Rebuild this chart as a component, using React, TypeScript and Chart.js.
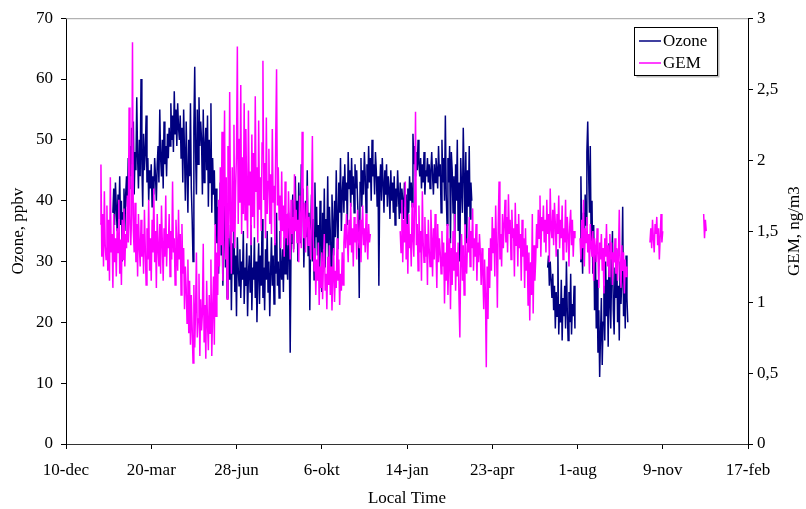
import React, { useEffect, useRef } from "react";
import { Chart, registerables } from "chart.js";

Chart.register(...registerables);

// X axis: days since 10-dec (first tick), ticks every 100 days
const xTickLabels = ["10-dec", "20-mar", "28-jun", "6-okt", "14-jan", "23-apr", "1-aug", "9-nov", "17-feb"];
const gemTickLabels = ["0", "0,5", "1", "1,5", "2", "2,5", "3"];

// Ozone (ppbv), daily samples; each block starts at the given day
const ozoneStartA = 55;
const ozoneA = [
  38, 42, 36, 43, 39, 35, 41, 37, 44, 36,
  40, 30, 38, 42, 35, 41, 44, 39, 47, 42,
  49, 44, 52, 46, 53, 41, 48, 45, 57, 47,
  42, 50, 44, 60, 46, 39, 51, 45, 48, 54,
  43, 47, 40, 45, 42, 46, 39, 44, 41, 47,
  44, 40, 46, 49, 43, 55, 47, 44, 50, 42,
  53, 46, 49, 44, 51, 47, 52, 49, 56, 50,
  54, 48, 58, 51, 55, 49, 56, 52, 50, 54,
  47, 52, 43, 55, 48, 40, 53, 45, 38, 50,
  44, 56, 42, 37, 30, 52, 62, 48, 41, 55,
  46, 57, 49, 53, 50, 41, 55, 43, 49, 52,
  45, 54, 39, 50, 43, 56, 38, 47, 41, 45,
  36, 42, 33, 39, 28, 37, 43, 31, 38, 26,
  35, 40, 29, 34, 24, 38, 31, 27, 36, 22,
  33, 28, 37, 25, 31, 21, 34, 29, 26, 32,
  24, 30, 27, 35, 23, 29, 26, 33, 21, 28,
  31, 25, 36, 22, 29, 27, 34, 24, 30, 20,
  28, 33, 23, 31, 26, 37, 24, 29, 22, 32,
  27, 35, 25, 30, 21, 28, 34, 26, 31, 23,
  33, 28, 38, 26, 30, 24, 35, 29, 27, 32,
  25, 34, 28, 36, 30, 27, 38, 31, 15, 33,
  36, 41, 32, 38, 44, 35, 40, 30, 43, 37,
  33, 46, 38, 42, 29, 36, 40, 34, 45, 31,
  38, 22, 35, 41, 30, 37, 27, 43, 34, 39,
  31, 36, 28, 40, 34, 25, 38, 32, 42, 29,
  37, 33, 44, 30, 39, 35, 26, 41, 36, 31,
  40, 34, 45, 37, 32, 43, 38, 47, 35, 41,
  44, 38, 46, 40, 43, 36, 48, 42, 45, 39,
  47, 41, 44, 38, 46, 42, 45, 40, 36, 24,
  43, 47, 39, 45, 41, 48, 44, 38, 46, 42,
  49, 43, 47, 40, 50, 44, 46, 41, 48, 45,
  39, 44, 26, 42, 46, 40, 47, 43, 38, 45,
  41, 46, 39, 44, 42, 37, 45, 40, 43, 38,
  44, 36, 42, 39, 45, 41, 37, 43, 38, 42,
  40, 37, 43, 39, 41, 36, 42, 38, 44, 40,
  43, 39, 51, 46, 49, 44, 48, 45, 50, 46,
  44, 47, 42, 46, 43, 48, 41, 45, 44, 47,
  43, 46, 42, 45, 48, 44, 41, 46, 43, 47,
  45, 42, 49, 44, 46, 38, 50, 43, 47, 40,
  54, 41, 36, 47, 43, 49, 33, 48, 45, 38,
  44, 31, 46, 40, 50, 35, 43, 30, 47, 42,
  38, 52, 44, 36, 48, 33, 45, 39, 49, 37,
  43, 40,
];
const ozoneStartB = 565;
const ozoneB = [
  29, 31, 26, 30, 27, 24, 28, 22, 26, 19,
  25, 21, 32, 18, 23, 20, 27, 17, 24, 21,
  26, 19, 30, 22, 17, 25, 20, 28, 18, 23,
  21, 26, 19,
];
const ozoneStartC = 603;
const ozoneC = [
  30, 44, 34, 28, 38, 32, 41, 36, 48, 53,
  45, 38, 49, 33, 40, 28, 36, 22, 32, 19,
  27, 15, 22, 11, 18, 24, 13, 20, 26, 17,
  30, 21, 27, 16, 33, 23, 19, 28, 35, 22,
  18, 29, 24, 32, 20, 26, 17, 30, 23, 27,
  39, 21, 28, 19, 31, 24, 20,
];

// GEM (ng/m3), daily samples
const gemStartA = 40;
const gemA = [
  1.55, 1.97, 1.32, 1.62, 1.25, 1.78, 1.40, 1.30, 1.68, 1.22,
  1.58, 1.15, 1.88, 1.35, 1.48, 1.10, 1.62, 1.28, 1.45, 1.18,
  1.52, 1.35, 1.72, 1.20, 1.44, 1.12, 1.58, 1.30, 1.66, 1.25,
  1.48, 1.38, 1.75, 1.42, 2.37, 1.55, 1.40, 1.62, 2.83, 1.50,
  1.35, 1.70, 1.28, 1.55, 1.18, 1.62, 1.40, 1.25, 1.58, 1.32,
  1.48, 1.20, 1.65, 1.38, 1.12, 1.52, 1.30, 1.72, 1.22, 1.45,
  1.15, 1.58, 1.35, 1.80, 1.28, 1.50, 1.10, 1.62, 1.38, 1.25,
  1.55, 1.20, 1.68, 1.42, 1.15, 1.52, 1.32, 1.75, 1.25, 1.48,
  1.38, 1.62, 1.18, 1.50, 1.30, 1.85, 1.35, 1.45, 1.12, 1.58,
  1.40, 1.22, 1.65, 1.30, 1.48, 1.05, 1.55, 1.20, 1.38, 0.95,
  1.25, 1.10, 0.85, 1.30, 0.78, 1.15, 0.70, 1.05, 0.82, 0.57,
  1.12, 0.68, 0.95, 1.35, 0.75, 0.88, 1.20, 0.62, 1.02, 0.80,
  0.92, 1.41, 0.72, 0.98, 0.60, 1.15, 0.85, 0.66, 1.05, 0.78,
  1.30, 0.62, 0.94, 1.18, 0.70, 1.55, 0.90, 1.35, 1.05, 1.72,
  1.25, 1.95, 1.40, 2.20, 1.15, 1.78, 2.35, 1.30, 1.88, 1.02,
  2.10, 1.45, 2.48, 1.62, 1.20, 1.95, 1.50, 2.25, 1.38, 1.80,
  2.05, 2.80, 1.55, 2.15, 1.70, 2.53, 1.48, 2.02, 1.62, 2.40,
  1.58, 2.22, 1.75, 1.45, 2.35, 1.68, 1.92, 1.40, 2.18, 1.60,
  2.05, 1.52, 2.45, 1.78, 1.95, 1.42, 2.28, 1.65, 1.88, 1.50,
  2.12, 2.70, 1.72, 1.98, 1.45, 2.30, 1.62, 1.85, 2.08, 1.55,
  1.90, 1.48, 2.22, 1.70, 1.82, 1.40, 2.15, 2.64, 1.68, 1.95,
  1.58, 1.75, 1.38, 1.92, 1.50, 1.68, 1.32, 1.85, 1.45, 1.62,
  1.40, 1.78, 1.55, 1.30, 1.72, 1.48, 1.60, 1.35, 1.90, 1.50,
  1.65, 1.42, 1.58, 1.28, 1.75, 1.52, 1.38, 2.20, 1.62, 1.45,
  1.70, 1.35, 1.55, 1.82, 1.40, 1.60, 1.48, 1.30, 1.65, 2.17,
  1.45, 1.22, 1.38, 1.05, 1.30, 1.15, 1.42, 0.98, 1.25, 1.10,
  1.35, 1.02, 1.28, 1.48, 1.08, 1.20, 0.95, 1.32, 1.12, 1.40,
  1.05, 1.25, 0.94, 1.18, 1.38, 1.00, 1.22, 1.10, 1.45, 1.15,
  1.30, 0.98, 1.20, 1.08, 1.35, 1.12, 1.42, 1.55, 1.38, 1.62,
  1.45, 1.28, 1.58, 1.40, 1.70, 1.35, 1.52, 1.25, 1.60, 1.42,
  1.55, 1.30, 1.65, 1.45, 1.38, 1.58, 1.28, 1.50, 1.68, 1.40,
  1.52, 1.35, 1.62, 1.45, 1.30, 1.55, 1.42, 1.48,
];
const gemStartB = 392;
const gemB = [
  1.50, 1.35, 1.72, 1.28, 1.58, 1.42, 1.85, 1.30, 1.55, 1.20,
  1.62, 1.38, 1.48, 1.25, 1.70, 1.45, 1.32, 1.65, 2.34, 1.40,
  1.55, 1.22, 1.68, 1.35, 1.50, 1.15, 1.78, 1.42, 1.28, 1.60,
  1.32, 1.48, 1.12, 1.58, 1.38, 1.25, 1.65, 1.45, 1.18, 1.52,
  1.30, 1.62, 1.40, 1.10, 1.55, 1.28, 1.45, 1.35, 1.20, 1.50,
  1.25, 1.42, 0.99, 1.35, 1.15, 1.55, 1.05, 1.30, 1.45, 0.95,
  1.38, 1.12, 1.50, 1.22, 1.62, 1.08, 1.35, 1.18, 1.42, 1.02,
  0.75, 1.30, 1.48, 1.15, 1.40, 1.05, 1.55, 1.28, 1.20, 1.45,
  1.35, 1.60, 1.25, 1.50, 1.38, 1.66, 1.22, 1.45, 1.32, 1.55,
  1.15, 1.42, 1.28, 1.48, 1.35, 1.12, 1.38, 1.20, 0.95, 1.30,
  1.05, 0.54, 1.25, 0.88, 1.38, 1.10, 1.45, 1.22, 1.60, 1.35,
  1.52, 1.18, 1.68, 1.40, 0.96, 1.55, 1.85, 1.30, 1.48, 1.25,
  1.62, 1.38, 1.55, 1.72, 1.42, 1.60, 1.35, 1.76, 1.48, 1.58,
  1.30, 1.65, 1.45, 1.52, 1.18, 1.70, 1.40, 1.55, 1.25, 1.62,
  1.38, 1.48, 1.15, 1.58, 1.32, 1.45, 1.10, 1.52, 1.22, 1.40,
  0.98, 1.35, 0.87, 1.28, 1.05, 1.62, 0.92, 1.40, 1.15, 1.30,
  1.55, 1.38, 1.65, 1.45, 1.75, 1.32, 1.60, 1.50, 1.68, 1.42,
  1.58, 1.35, 1.72, 1.48, 1.62, 1.28, 1.80, 1.52, 1.45, 1.65,
  1.40, 1.70, 1.55, 1.32, 1.62, 1.48, 1.75, 1.38, 1.58, 1.45,
  1.68, 1.30, 1.52, 1.42, 1.72, 1.35, 1.60, 1.48, 1.25, 1.55,
  1.65, 1.40, 1.58, 1.32, 1.50, 1.45,
];
const gemStartC = 603;
const gemC = [
  1.45, 1.30, 1.58, 1.38, 1.72, 1.25, 1.52, 1.42, 1.60, 1.35,
  1.48, 1.20, 1.55, 1.40, 1.32, 1.50, 1.15, 1.45, 1.38, 1.28,
  1.52, 1.35, 1.10, 1.42, 1.30, 1.48, 1.22, 1.38, 1.06, 1.45,
  1.32, 1.55, 1.25, 1.40, 1.18, 1.48, 1.30, 1.42, 1.12, 1.35,
  1.28, 1.45, 1.20, 1.38, 1.15, 1.32, 1.65, 1.25, 1.10, 1.40,
  1.22, 1.35, 1.06, 1.30, 1.18, 1.25,
];
const gemStartD = 685;
const gemD = [1.42, 1.52, 1.38, 1.58, 1.45, 1.35, 1.55, 1.48, 1.60, 1.40, 1.52, 1.30, 1.46, 1.62, 1.42, 1.50];
const gemStartE = 748;
const gemE = [1.62, 1.45, 1.58, 1.50];

const FONT = "'Liberation Serif', 'Times New Roman', serif";

type Seg = { start: number; values: number[] };

function buildPoints(segs: Seg[]) {
  const pts: { x: number; y: number | null }[] = [];
  segs.forEach((s, k) => {
    if (k > 0) pts.push({ x: s.start - 0.5, y: null });
    s.values.forEach((v, i) => pts.push({ x: s.start + i, y: v }));
  });
  return pts;
}

const decorPlugin = {
  id: "decor",
  afterDraw(chart: any) {
    const { ctx, chartArea } = chart;
    ctx.save();
    // top border (gray)
    ctx.strokeStyle = "#a0a0a0";
    ctx.lineWidth = 1;
    ctx.beginPath();
    ctx.moveTo(chartArea.left, chartArea.top + 0.5);
    ctx.lineTo(chartArea.right, chartArea.top + 0.5);
    ctx.stroke();

    // right axis title, reading bottom-to-top
    ctx.fillStyle = "#000";
    ctx.font = `17px ${FONT}`;
    ctx.textAlign = "center";
    ctx.textBaseline = "middle";
    ctx.translate(795, (chartArea.top + chartArea.bottom) / 2);
    ctx.rotate(-Math.PI / 2);
    ctx.fillText("GEM, ng/m3", 0, 0);
    ctx.restore();

    // legend
    ctx.save();
    const bx = 634.5, by = 27.5, bw = 83, bh = 48;
    ctx.fillStyle = "#bdbdbd";
    ctx.fillRect(bx + 2, by + 2, bw, bh);
    ctx.fillStyle = "#fff";
    ctx.fillRect(bx, by, bw, bh);
    ctx.strokeStyle = "#000";
    ctx.lineWidth = 1;
    ctx.strokeRect(bx, by, bw, bh);
    ctx.font = `17px ${FONT}`;
    ctx.textAlign = "left";
    ctx.textBaseline = "middle";
    chart.data.datasets.forEach((ds: any, i: number) => {
      const y = 41 + i * 22;
      ctx.strokeStyle = ds.borderColor;
      ctx.lineWidth = 1.5;
      ctx.beginPath();
      ctx.moveTo(639, y);
      ctx.lineTo(661, y);
      ctx.stroke();
      ctx.fillStyle = "#000";
      ctx.fillText(ds.label, 663, y + 1);
    });
    ctx.restore();
  },
};

export default function App() {
  const ref = useRef<HTMLCanvasElement | null>(null);
  useEffect(() => {
    document.body.style.margin = "0";
    const ozonePts = buildPoints([
      { start: ozoneStartA, values: ozoneA },
      { start: ozoneStartB, values: ozoneB },
      { start: ozoneStartC, values: ozoneC },
    ]);
    const gemPts = buildPoints([
      { start: gemStartA, values: gemA },
      { start: gemStartB, values: gemB },
      { start: gemStartC, values: gemC },
      { start: gemStartD, values: gemD },
      { start: gemStartE, values: gemE },
    ]);
    const tickFont = { family: FONT, size: 17 };
    const chart = new Chart(ref.current as HTMLCanvasElement, {
      type: "line",
      data: {
        datasets: [
          {
            label: "Ozone",
            data: ozonePts as any,
            borderColor: "#000080",
            borderWidth: 1.5,
            pointRadius: 0,
            yAxisID: "y",
            order: 1,
            spanGaps: false,
          },
          {
            label: "GEM",
            data: gemPts as any,
            borderColor: "#ff00ff",
            borderWidth: 1.5,
            pointRadius: 0,
            yAxisID: "y1",
            order: 0,
            spanGaps: false,
          },
        ],
      },
      options: {
        responsive: false,
        animation: false,
        devicePixelRatio: 1,
        layout: { padding: { top: 16, left: 0, right: 0, bottom: 0 } },
        plugins: { legend: { display: false }, tooltip: { enabled: false } },
        scales: {
          x: {
            type: "linear",
            min: 0,
            max: 800,
            afterFit: (s: any) => { s.height = 65; },
            ticks: {
              stepSize: 100,
              autoSkip: false,
              maxRotation: 0,
              color: "#000",
              font: tickFont,
              padding: 11,
              callback: (v: any) => xTickLabels[Math.round(Number(v) / 100)] ?? "",
            },
            grid: { drawOnChartArea: false, drawTicks: true, tickLength: 5, color: "#000" },
            border: { display: true, color: "#333", width: 1 },
            title: { display: true, text: "Local Time", color: "#000", font: tickFont, padding: { top: 0, bottom: 0 } },
          },
          y: {
            type: "linear",
            position: "left",
            min: 0,
            max: 70,
            afterFit: (s: any) => { s.width = 66; },
            ticks: { stepSize: 10, color: "#000", font: tickFont, padding: 8 },
            grid: { drawOnChartArea: false, drawTicks: true, tickLength: 5, color: "#000" },
            border: { display: true, color: "#000", width: 1 },
            title: { display: true, text: "Ozone, ppbv", color: "#000", font: tickFont, padding: { top: 8, bottom: 0 } },
          },
          y1: {
            type: "linear",
            position: "right",
            min: 0,
            max: 3,
            afterFit: (s: any) => { s.width = 58; },
            ticks: {
              stepSize: 0.5,
              color: "#000",
              font: tickFont,
              padding: 4,
              callback: (v: any) => gemTickLabels[Math.round(Number(v) * 2)] ?? "",
            },
            grid: { drawOnChartArea: false, drawTicks: true, tickLength: 5, color: "#000" },
            border: { display: true, color: "#000", width: 1 },
          },
        },
      } as any,
      plugins: [decorPlugin],
    });
    return () => chart.destroy();
  }, []);
  return (
    <div style={{ position: "absolute", left: 0, top: 0, width: 806, height: 509 }}>
      <canvas ref={ref} width={806} height={509} style={{ width: 806, height: 509 }} />
    </div>
  );
}
